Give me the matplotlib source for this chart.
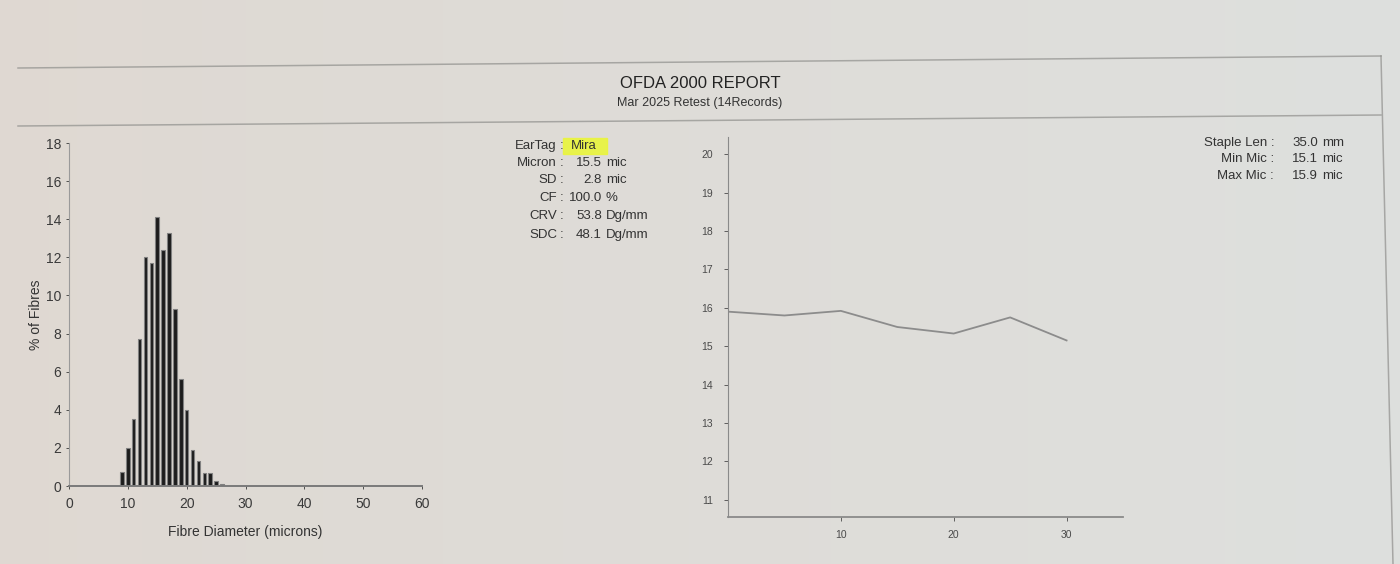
"""OFDA 2000 report page: fibre diameter histogram and micron profile."""

import numpy as np
from matplotlib import pyplot as plt
from matplotlib.lines import Line2D
from matplotlib.patches import Rectangle

plt.rcParams["font.family"] = ["Liberation Sans", "DejaVu Sans"]

# Histogram: % of fibres per micron class
diam = [9, 10, 11, 12, 13, 14, 15, 16, 17, 18, 19, 20, 21, 22, 23, 24, 25, 26]
pct = [0.75, 2.0, 3.5, 7.7, 12.0, 11.7, 14.1, 12.4, 13.3, 9.3, 5.6, 4.0,
       1.9, 1.3, 0.7, 0.67, 0.26, 0.1]

# Micron profile along the staple
pos = [0, 5, 10, 15, 20, 25, 30]
mic = [15.9, 15.8, 15.92, 15.5, 15.33, 15.75, 15.15]

stat_labels = ["EarTag", "Micron", "SD", "CF", "CRV", "SDC"]
stat_values = ["", "15.5", "2.8", "100.0", "53.8", "48.1"]
stat_units = ["", "mic", "mic", "%", "Dg/mm", "Dg/mm"]
ear_tag = "Mira"

right_labels = ["Staple Len", "Min Mic", "Max Mic"]
right_values = ["35.0", "15.1", "15.9"]
right_units = ["mm", "mic", "mic"]

W, H = 1400, 564
fig = plt.figure(figsize=(W / 100, H / 100), dpi=100)

# paper background
bg = fig.add_axes([0, 0, 1, 1], zorder=-10)
grad = np.linspace(0, 1, 256)
left_c = np.array([0.875, 0.850, 0.825])
right_c = np.array([0.870, 0.878, 0.870])
img = left_c[None, :] * (1 - grad[:, None]) + right_c[None, :] * grad[:, None]
bg.imshow(img[None, :, :], aspect="auto", extent=[0, 1, 0, 1])
bg.set_axis_off()


def fx(px):
    return px / W


def fy(py):
    return 1 - py / H


# header box lines (page slightly rotated in the photo)
line_c = "#8f8f8c"
for (x0, y0, x1, y1) in [(18, 68, 1381, 56), (18, 126, 1381, 115),
                         (1381, 56, 1393, 564)]:
    fig.add_artist(Line2D([fx(x0), fx(x1)], [fy(y0), fy(y1)],
                          color=line_c, lw=1.1, alpha=0.7))

txt_c = "#333333"
fig.text(fx(700), fy(84), "OFDA 2000 REPORT", ha="center", va="center",
         fontsize=12, color="#222222")
fig.text(fx(700), fy(103), "Mar 2025 Retest (14Records)", ha="center",
         va="center", fontsize=9, color=txt_c)

# stats block
y_rows = [146, 163, 180, 198, 216, 235]
for lab, val, unit, py in zip(stat_labels, stat_values, stat_units, y_rows):
    fig.text(fx(557), fy(py), lab, ha="right", va="center", fontsize=9.5,
             color=txt_c)
    fig.text(fx(562), fy(py), ":", ha="center", va="center", fontsize=9.5,
             color=txt_c)
    if val:
        fig.text(fx(602), fy(py), val, ha="right", va="center",
                 fontsize=9.5, color=txt_c)
        fig.text(fx(606), fy(py), unit, ha="left", va="center",
                 fontsize=9.5, color=txt_c)
fig.add_artist(Rectangle((fx(563), fy(154)), fx(44), 16 / H,
                         color="#eaf53c", alpha=0.9, zorder=1,
                         transform=fig.transFigure))
fig.text(fx(571), fy(146), ear_tag, ha="left", va="center", fontsize=9.5,
         color=txt_c, zorder=2)

for lab, val, unit, py in zip(right_labels, right_values, right_units,
                              [143, 159, 176]):
    fig.text(fx(1274), fy(py), lab + " :", ha="right", va="center",
             fontsize=9.5, color=txt_c)
    fig.text(fx(1318), fy(py), val, ha="right", va="center", fontsize=9.5,
             color=txt_c)
    fig.text(fx(1322), fy(py), unit, ha="left", va="center", fontsize=9.5,
             color=txt_c)

# histogram
ax = fig.add_axes([fx(69), fy(486), fx(422 - 69), (486 - 143) / H])
ax.set_facecolor("none")
ax.bar(diam, pct, width=0.6, color="#1c1c1c", edgecolor="#808080",
       linewidth=0.8)
ax.set_xlim(0, 60)
ax.set_ylim(0, 18)
ax.set_xticks(range(0, 61, 10))
ax.set_yticks(range(0, 19, 2))
ax.tick_params(labelsize=10, colors="#3a3a3a", length=2, width=0.6)
ax.tick_params(axis="x", pad=6)
for s in ["top", "right"]:
    ax.spines[s].set_visible(False)
ax.spines["left"].set_color("#9a9a9a")
ax.spines["bottom"].set_color("#7a7a7a")
ax.spines["bottom"].set_linewidth(1.4)
ax.set_xlabel("Fibre Diameter (microns)", fontsize=10, color=txt_c,
              labelpad=10)
ax.set_ylabel("% of Fibres", fontsize=10, color=txt_c, labelpad=2)

# micron profile
ax2 = fig.add_axes([fx(728), fy(517), fx(1123 - 728), (517 - 137) / H])
ax2.set_facecolor("none")
ax2.plot(pos, mic, color="#8c8c8c", lw=1.3)
ax2.set_xlim(0, 35)
ax2.set_ylim(10.55, 20.45)
ax2.set_xticks([10, 20, 30])
ax2.set_yticks(range(11, 21))
ax2.tick_params(labelsize=7.5, colors="#4a4a4a", length=3, width=0.6)
ax2.tick_params(axis="x", pad=6)
ax2.tick_params(axis="y", pad=8)
for s in ["top", "right"]:
    ax2.spines[s].set_visible(False)
ax2.spines["left"].set_color("#8a8a8a")
ax2.spines["bottom"].set_color("#8a8a8a")
ax2.spines["bottom"].set_linewidth(1.3)

fig.savefig("out.png", dpi=100)
